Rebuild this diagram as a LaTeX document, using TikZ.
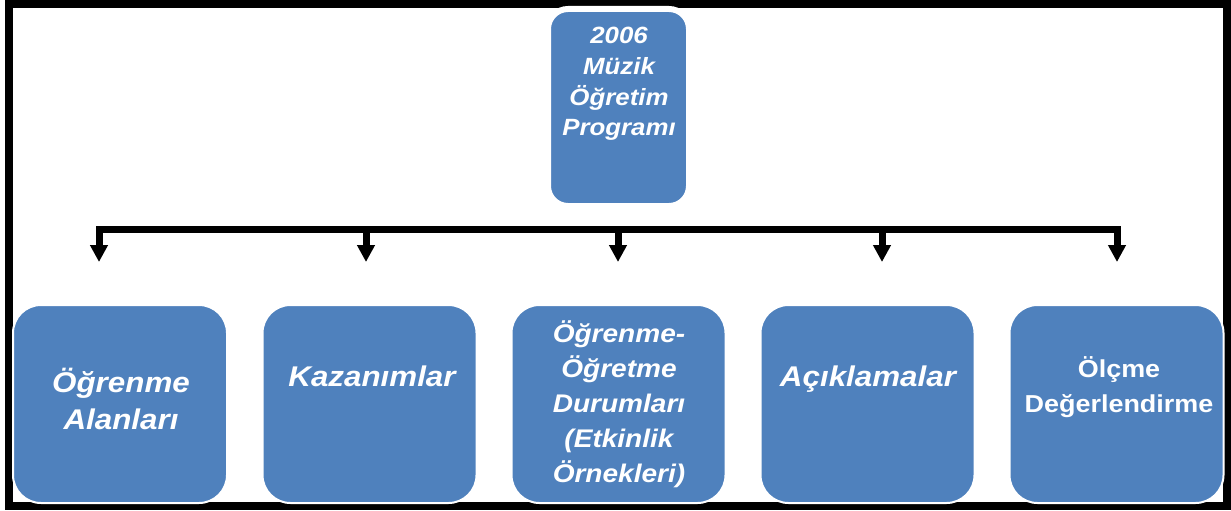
\documentclass[tikz,border=0pt]{standalone}
\usepackage{fontspec}
\newfontfamily\lsans[FakeStretch=1.1]{Liberation Sans}
\usetikzlibrary{arrows.meta}
\definecolor{boxblue}{HTML}{4F81BD}
\tikzset{
  frame/.style={draw=black, line width=8pt},
  topbox/.style={draw=white, line width=6pt, fill=boxblue, rounded corners=20pt,
    minimum width=141pt, minimum height=197pt, inner sep=0pt},
  box/.style={draw=white, line width=2pt, fill=boxblue, rounded corners=28pt,
    minimum width=214pt, minimum height=198pt, inner sep=0pt},
  txt/.style={text=white, align=center, inner sep=0pt},
  conn/.style={draw=black, line width=7pt, line join=miter},
  tip/.style={-{Triangle[width=17pt,length=17pt]}},
}
\begin{document}
\begin{tikzpicture}[x=1pt,y=-1pt]
\useasboundingbox (0,0) rectangle (1231,511);
\draw[frame] (9,4) rectangle (1226.5,506);

% top box
\node[topbox] (top) at (618.5,107.5) {};
\node[txt, font=\lsans\bfseries\itshape\fontsize{23.5}{30.7}\selectfont] (toptext) at (619,84)
  {2006\\Müzik\\Öğretim\\Programı};

% bottom boxes
\node[box] (b1) at (120,404) {};
\node[box] (b2) at (369.5,404) {};
\node[box] (b3) at (618.5,404) {};
\node[box] (b4) at (867.5,404) {};
\node[box] (b5) at (1116.5,404) {};

\node[txt, font=\lsans\bfseries\itshape\fontsize{28.5}{37.5}\selectfont] (t1) at (121,399) {Öğrenme\\Alanları};
\node[txt, font=\lsans\bfseries\itshape\fontsize{28.5}{37}\selectfont] (t2) at (372,376) {Kazanımlar};
\node[txt, font=\lsans\bfseries\itshape\fontsize{25.5}{35}\selectfont] (t3) at (619,404)
  {Öğrenme-\\Öğretme\\Durumları\\(Etkinlik\\Örnekleri)};
\node[txt, font=\lsans\bfseries\itshape\fontsize{28.5}{37}\selectfont] (t4) at (868,379) {Açıklamalar};
\node[txt, font=\lsans\bfseries\fontsize{24.5}{35}\selectfont] (t5) at (1119,387) {Ölçme\\Değerlendirme};

% connectors
\coordinate (h1) at (99,229);
\coordinate (h2) at (366,229);
\coordinate (h3) at (618,229);
\coordinate (h4) at (882,229);
\coordinate (h5) at (1117,229);
\coordinate (a1) at (99,262);
\coordinate (a2) at (366,262);
\coordinate (a3) at (618,262);
\coordinate (a4) at (882,262);
\coordinate (a5) at (1117,262);

\draw[conn, {Triangle[width=17pt,length=17pt]}-{Triangle[width=17pt,length=17pt]}] (a1) -- (h1) -- (h5) -- (a5);
\draw[conn, tip] (h2) -- (a2);
\draw[conn, tip] (h3) -- (a3);
\draw[conn, tip] (h4) -- (a4);
\end{tikzpicture}
\end{document}
